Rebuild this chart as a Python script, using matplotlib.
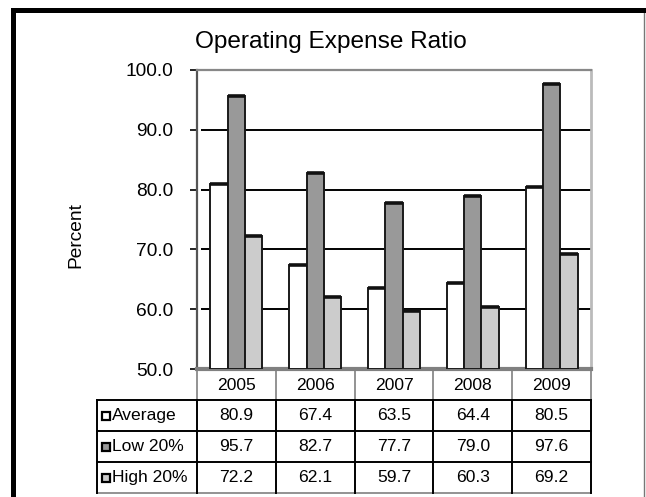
#!/usr/bin/env python3
"""Operating Expense Ratio - clustered columns with an Excel-style data table."""
import matplotlib

matplotlib.use("Agg")
import matplotlib.pyplot as plt
from matplotlib import patches, transforms

plt.rcParams["font.family"] = ["Liberation Sans", "DejaVu Sans"]

years = ["2005", "2006", "2007", "2008", "2009"]
series_names = ["Average", "Low 20%", "High 20%"]
average = [80.9, 67.4, 63.5, 64.4, 80.5]
low20 = [95.7, 82.7, 77.7, 79.0, 97.6]
high20 = [72.2, 62.1, 59.7, 60.3, 69.2]
y_ticks = [50, 60, 70, 80, 90, 100]
grid_vals = [60, 70, 80, 90]

COLORS = ["#ffffff", "#999999", "#cccccc"]

W, H = 646, 497


def fx(px):
    return px / W


def fy(py):
    return 1 - py / H


def main():
    fig = plt.figure(figsize=(W / 100, H / 100), dpi=100)
    ax = fig.add_axes([fx(197), fy(369), fx(591) - fx(197), fy(70) - fy(369)])

    # outer chart frame (cut at the bottom / right like the screenshot)
    fig.patches.append(
        patches.Rectangle((fx(12.5), fy(560)), fx(650) - fx(12.5), fy(10) - fy(560),
                          transform=fig.transFigure, fill=False, edgecolor="black",
                          linewidth=3.6, zorder=10)
    )
    fig.lines.append(
        plt.Line2D([fx(644), fx(644)], [fy(12), 0], transform=fig.transFigure,
                   color="#777777", linewidth=1.0)
    )

    series = [average, low20, high20]
    n = len(years)
    bw = 0.22
    xs = list(range(n))
    for k, vals in enumerate(series):
        pos = [x + (k - 1) * bw for x in xs]
        ax.bar(pos, [v - 50 for v in vals], bottom=50, width=bw, color=COLORS[k],
               edgecolor="#1a1a1a", linewidth=1.4, zorder=3, align="center")
        # dark top face of the shallow 3D column
        ax.hlines(vals, [p - bw / 2 for p in pos], [p + bw / 2 for p in pos],
                  colors="#111111", linewidth=2.6, zorder=4)

    ax.hlines(grid_vals, -0.45, 4.55, colors="black", linewidth=1.4, zorder=1)

    ax.set_xlim(-0.5, n - 0.5)
    ax.set_ylim(50, 100)
    ax.set_yticks(y_ticks)
    ax.set_yticklabels([f"{v:.1f}" for v in y_ticks], fontsize=13.8)
    ax.tick_params(axis="y", length=5, width=1.2, pad=12, color="black")
    ax.set_xticks([])
    ax.spines["left"].set_color("#555555")
    ax.spines["left"].set_linewidth(1.6)
    ax.spines["top"].set_color("#888888")
    ax.spines["top"].set_linewidth(1.6)
    ax.spines["right"].set_color("#bbbbbb")
    ax.spines["right"].set_linewidth(2.0)
    ax.spines["bottom"].set_color("#808080")
    ax.spines["bottom"].set_linewidth(3.0)

    fig.text(fx(331), fy(48), "Operating Expense Ratio", ha="center", va="baseline",
             fontsize=17.6)
    fig.text(fx(75.5), fy(235), "Percent", ha="center", va="center", rotation=90,
             fontsize=13.8)

    # data table under the plot: x in data units, y in axes fraction
    tr = transforms.blended_transform_factory(ax.transData, ax.transAxes)
    ah = 369 - 70

    def ya(py):
        return (369 - py) / ah

    rows_px = [369, 400, 431, 462, 493]
    x_left = -0.5 - 100 / 78.8
    col_edges = [x - 0.5 for x in xs] + [n - 0.5]

    # header row: thin grey separators only
    for xe in col_edges:
        ax.plot([xe, xe], [ya(369), ya(400)], transform=tr, color="#808080",
                linewidth=1.2, clip_on=False)
    for i, yr in enumerate(years):
        ax.text(xs[i], ya(385), yr, transform=tr, ha="center", va="center",
                fontsize=12.6, clip_on=False)

    # body rows
    for yp in rows_px[1:4]:
        ax.plot([x_left, n - 0.5], [ya(yp), ya(yp)], transform=tr, color="black",
                linewidth=1.4, clip_on=False)
    ax.plot([x_left, n - 0.5], [ya(493), ya(493)], transform=tr, color="#808080",
            linewidth=1.2, clip_on=False)
    for xe in [x_left] + col_edges:
        ax.plot([xe, xe], [ya(400), ya(493)], transform=tr, color="black",
                linewidth=1.4, clip_on=False)

    sq_w = 8 / 78.8
    sq_h = 8 / ah
    for r, (name, vals) in enumerate(zip(series_names, series)):
        yc = ya((rows_px[r + 1] + rows_px[r + 2]) / 2)
        ax.add_patch(patches.Rectangle((x_left + 5 / 78.8, yc - sq_h / 2), sq_w, sq_h,
                                       transform=tr, facecolor=COLORS[r],
                                       edgecolor="black", linewidth=1.6, clip_on=False))
        ax.text(x_left + 15 / 78.8, yc, name, transform=tr, ha="left", va="center",
                fontsize=12.6, clip_on=False)
        for i, v in enumerate(vals):
            ax.text(xs[i], yc, f"{v:.1f}", transform=tr, ha="center", va="center",
                    fontsize=12.6, clip_on=False)

    fig.savefig("out.png", dpi=100)
    plt.close(fig)


if __name__ == "__main__":
    main()
